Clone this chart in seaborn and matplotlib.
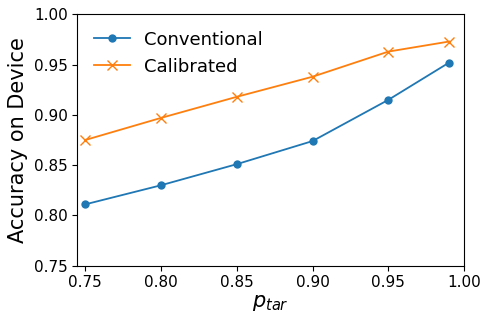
import matplotlib
matplotlib.use("Agg")
import matplotlib.pyplot as plt
import seaborn as sns
import pandas as pd

# values
p_tar = [0.75, 0.80, 0.85, 0.90, 0.95, 0.99]
conventional = [0.811, 0.830, 0.851, 0.874, 0.915, 0.952]
calibrated = [0.875, 0.897, 0.918, 0.938, 0.963, 0.973]

df = pd.DataFrame({"p": p_tar, "Conventional": conventional, "Calibrated": calibrated})

plt.rcParams['font.family'] = ['DejaVu Sans']

fig, ax = plt.subplots(figsize=(4.84, 3.13), dpi=100)
fig.subplots_adjust(left=0.16, right=0.959, top=0.954, bottom=0.151)

sns.lineplot(data=df, x="p", y="Conventional", marker="o", markersize=6,
             markeredgewidth=0, color="#1f77b4", linewidth=1.3,
             label="Conventional", ax=ax)
sns.lineplot(data=df, x="p", y="Calibrated", marker="x", markersize=7,
             markeredgewidth=1, markeredgecolor="#ff7f0e", color="#ff7f0e",
             linewidth=1.3, label="Calibrated", ax=ax)

ax.set_xlim(0.745, 1.0)
ax.set_ylim(0.75, 1.0)
ax.set_xticks([0.75, 0.80, 0.85, 0.90, 0.95, 1.00])
ax.set_yticks([0.75, 0.80, 0.85, 0.90, 0.95, 1.00])
ax.tick_params(labelsize=11)
ax.set_xlabel(r"$p_{tar}$", fontsize=15, labelpad=2)
ax.set_ylabel("Accuracy on Device", fontsize=15)
ax.legend(fontsize=13, frameon=False, loc="upper left")

fig.savefig("out.png", dpi=100)
